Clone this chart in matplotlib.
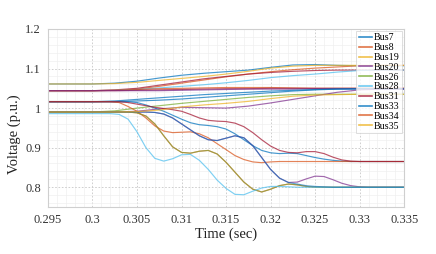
import matplotlib
matplotlib.use("Agg")
import matplotlib.pyplot as plt
from matplotlib.ticker import AutoMinorLocator

plt.rcParams['font.family'] = ['Liberation Serif', 'DejaVu Serif']

# matlab default colour order
c_blue, c_orange, c_yellow = '#0072BD', '#D95319', '#EDB120'
c_purple, c_green, c_lblue, c_maroon = '#7E2F8E', '#77AC30', '#4DBEEE', '#A2142F'

# time base for the buses that collapse (sec)
t_low = [0.295, 0.300] + [round(0.302 + 0.001 * i, 3) for i in range(32)] + [0.335]

bus7 = [1.016, 1.016, 1.016, 1.016, 1.016, 1.014, 1.008, 1.000, 0.992, 0.982, 0.972, 0.963,
        0.958, 0.956, 0.953, 0.947, 0.935, 0.920, 0.905, 0.893, 0.887, 0.885, 0.886, 0.885,
        0.880, 0.875, 0.871, 0.868, 0.866, 0.865, 0.865, 0.865, 0.865, 0.865, 0.865]
bus8 = [1.016, 1.016, 1.016, 1.014, 1.004, 0.992, 0.975, 0.955, 0.942, 0.938, 0.939, 0.940,
        0.935, 0.925, 0.910, 0.895, 0.880, 0.870, 0.864, 0.862, 0.864, 0.865, 0.865, 0.865,
        0.865, 0.865, 0.865, 0.865, 0.865, 0.865, 0.865, 0.865, 0.865, 0.865, 0.865]
bus31 = [1.016, 1.016, 1.016, 1.016, 1.014, 1.010, 1.006, 1.002, 0.999, 0.996, 0.992, 0.984,
         0.975, 0.969, 0.967, 0.966, 0.962, 0.953, 0.938, 0.920, 0.904, 0.893, 0.888, 0.887,
         0.890, 0.890, 0.885, 0.876, 0.869, 0.866, 0.865, 0.865, 0.865, 0.865, 0.865]
bus28 = [0.986, 0.986, 0.986, 0.984, 0.972, 0.940, 0.900, 0.873, 0.866, 0.872, 0.882, 0.883,
         0.868, 0.845, 0.818, 0.797, 0.782, 0.781, 0.790, 0.798, 0.802, 0.802, 0.801, 0.800,
         0.800, 0.800, 0.800, 0.800, 0.800, 0.800, 0.800, 0.800, 0.800, 0.800, 0.800]
bus26 = [0.990, 0.990, 0.990, 0.990, 0.990, 0.988, 0.980, 0.960, 0.930, 0.902, 0.888, 0.886,
         0.891, 0.893, 0.884, 0.863, 0.838, 0.813, 0.795, 0.788, 0.795, 0.804, 0.808, 0.806,
         0.802, 0.800, 0.800, 0.800, 0.800, 0.800, 0.800, 0.800, 0.800, 0.800, 0.800]
bus34 = [0.990, 0.990, 0.990, 0.990, 0.990, 0.988, 0.980, 0.960, 0.930, 0.902, 0.888, 0.886,
         0.891, 0.893, 0.884, 0.863, 0.838, 0.813, 0.795, 0.788, 0.795, 0.804, 0.808, 0.806,
         0.802, 0.800, 0.800, 0.800, 0.800, 0.800, 0.800, 0.800, 0.800, 0.800, 0.800]
bus20 = [0.990, 0.990, 0.990, 0.990, 0.990, 0.990, 0.990, 0.989, 0.985, 0.975, 0.960, 0.945,
         0.930, 0.920, 0.918, 0.924, 0.930, 0.925, 0.905, 0.875, 0.845, 0.823, 0.812, 0.813,
         0.821, 0.828, 0.827, 0.819, 0.810, 0.804, 0.801, 0.800, 0.800, 0.800, 0.800]
bus33 = [0.990, 0.990, 0.990, 0.990, 0.990, 0.990, 0.990, 0.989, 0.985, 0.975, 0.960, 0.945,
         0.930, 0.920, 0.918, 0.924, 0.930, 0.925, 0.905, 0.875, 0.845, 0.823, 0.812, 0.808,
         0.804, 0.802, 0.801, 0.800, 0.800, 0.800, 0.800, 0.800, 0.800, 0.800, 0.800]

# time base for the buses that rise
t_up = [0.295, 0.300, 0.3025, 0.305, 0.3075, 0.310, 0.3125, 0.315, 0.3175, 0.320,
        0.3225, 0.325, 0.3275, 0.330, 0.3325, 0.335]

bus19 = [1.061, 1.061, 1.062, 1.065, 1.070, 1.075, 1.080, 1.086, 1.093, 1.101, 1.106, 1.108, 1.108, 1.108, 1.108, 1.108]
bus35 = [0.990, 0.990, 0.990, 0.991, 0.995, 1.003, 1.008, 1.012, 1.017, 1.024, 1.030, 1.033, 1.034, 1.035, 1.035, 1.035]
up_blue1 = [1.061, 1.061, 1.063, 1.068, 1.076, 1.083, 1.088, 1.092, 1.096, 1.103, 1.109, 1.110, 1.108, 1.107, 1.107, 1.107]
up_orange1 = [1.044, 1.044, 1.045, 1.048, 1.055, 1.063, 1.071, 1.079, 1.086, 1.092, 1.097, 1.101, 1.104, 1.107, 1.108, 1.108]
up_maroon1 = [1.044, 1.044, 1.046, 1.050, 1.058, 1.066, 1.074, 1.080, 1.086, 1.090, 1.093, 1.095, 1.096, 1.096, 1.096, 1.096]
up_lblue = [1.044, 1.044, 1.045, 1.047, 1.051, 1.055, 1.059, 1.064, 1.070, 1.077, 1.082, 1.086, 1.091, 1.095, 1.096, 1.096]
up_orange2 = [1.044, 1.044, 1.045, 1.047, 1.049, 1.050, 1.051, 1.052, 1.052, 1.052, 1.051, 1.050, 1.050, 1.050, 1.050, 1.050]
up_maroon2 = [1.044, 1.044, 1.044, 1.045, 1.046, 1.047, 1.048, 1.049, 1.049, 1.050, 1.050, 1.050, 1.050, 1.050, 1.050, 1.050]
up_purple1 = [1.044, 1.044, 1.044, 1.044, 1.044, 1.045, 1.046, 1.047, 1.048, 1.048, 1.048, 1.049, 1.049, 1.049, 1.049, 1.049]
up_blue2 = [1.016, 1.016, 1.018, 1.022, 1.026, 1.030, 1.034, 1.037, 1.040, 1.043, 1.045, 1.047, 1.048, 1.048, 1.048, 1.048]
up_blue3 = [1.016, 1.016, 1.016, 1.018, 1.020, 1.023, 1.027, 1.031, 1.035, 1.039, 1.043, 1.046, 1.048, 1.049, 1.049, 1.049]
up_green = [0.990, 0.990, 0.993, 1.000, 1.006, 1.012, 1.017, 1.022, 1.027, 1.031, 1.034, 1.035, 1.035, 1.035, 1.035, 1.035]
up_purple2 = [0.990, 0.990, 0.990, 0.992, 0.998, 1.002, 1.001, 1.000, 1.005, 1.013, 1.022, 1.031, 1.040, 1.046, 1.048, 1.048]

xticks = [0.295, 0.3, 0.305, 0.31, 0.315, 0.32, 0.325, 0.33, 0.335]
xlabels = ['0.295', '0.3', '0.305', '0.31', '0.315', '0.32', '0.325', '0.33', '0.335']
yticks = [0.8, 0.9, 1.0, 1.1, 1.2]
ylabels = ['0.8', '0.9', '1', '1.1', '1.2']

fig = plt.figure(figsize=(4.36, 2.54), dpi=100)
ax = fig.add_axes([0.110, 0.185, 0.817, 0.701])

lw, al = 0.85, 0.72
# unlabeled buses first so the labeled ones sit on top
extra = [(up_blue1, c_blue), (up_orange1, c_orange), (up_maroon1, c_maroon), (up_lblue, c_lblue),
         (up_orange2, c_orange), (up_maroon2, c_maroon), (up_purple1, c_purple),
         (up_blue2, c_blue), (up_blue3, c_blue), (up_green, c_green), (up_purple2, c_purple)]
for v, c in extra:
    ax.plot(t_up, v, color=c, lw=lw, alpha=al)

lines = {}
lines['Bus7'] = ax.plot(t_low, bus7, color=c_blue, lw=lw, alpha=al, label='Bus7')[0]
lines['Bus8'] = ax.plot(t_low, bus8, color=c_orange, lw=lw, alpha=al, label='Bus8')[0]
lines['Bus19'] = ax.plot(t_up, bus19, color=c_yellow, lw=lw, alpha=al, label='Bus19')[0]
lines['Bus20'] = ax.plot(t_low, bus20, color=c_purple, lw=lw, alpha=al, label='Bus20')[0]
lines['Bus34'] = ax.plot(t_low, bus34, color=c_orange, lw=lw, alpha=al, label='Bus34')[0]
lines['Bus26'] = ax.plot(t_low, bus26, color=c_green, lw=lw, alpha=0.6, label='Bus26')[0]
lines['Bus28'] = ax.plot(t_low, bus28, color=c_lblue, lw=lw, alpha=al, label='Bus28')[0]
lines['Bus31'] = ax.plot(t_low, bus31, color=c_maroon, lw=lw, alpha=al, label='Bus31')[0]
lines['Bus33'] = ax.plot(t_low, bus33, color=c_blue, lw=lw, alpha=0.6, label='Bus33')[0]
lines['Bus35'] = ax.plot(t_up, bus35, color=c_yellow, lw=lw, alpha=al, label='Bus35')[0]
order = ['Bus7', 'Bus8', 'Bus19', 'Bus20', 'Bus26', 'Bus28', 'Bus31', 'Bus33', 'Bus34', 'Bus35']

ax.set_xlim(0.295, 0.335)
ax.set_ylim(0.75, 1.2)
ax.set_xticks(xticks)
ax.set_xticklabels(xlabels)
ax.set_yticks(yticks)
ax.set_yticklabels(ylabels)
ax.xaxis.set_minor_locator(AutoMinorLocator(5))
ax.yaxis.set_minor_locator(AutoMinorLocator(5))
ax.grid(which='major', color='#c8c8c8', linestyle=(0, (2, 2)), lw=0.6)
ax.grid(which='minor', color='#ededed', linestyle='-', lw=0.4)
ax.set_axisbelow(True)
ax.tick_params(which='both', length=0, labelsize=9, colors='#333333', pad=5)
for s in ax.spines.values():
    s.set_color('#cfcfcf')
    s.set_linewidth(0.8)

ax.set_xlabel('Time (sec)', fontsize=10.5, color='#222222', labelpad=1)
ax.set_ylabel('Voltage (p.u.)', fontsize=10.5, color='#222222')
ax.yaxis.set_label_coords(-0.075, 0.41)

leg = ax.legend(handles=[lines[k] for k in order], loc='upper right', fontsize=7.2,
                frameon=True, fancybox=False, handlelength=1.3, handletextpad=0.2,
                labelspacing=0.08, borderpad=0.25, borderaxespad=0.2)
leg.get_frame().set_edgecolor('#cfcfcf')
leg.get_frame().set_linewidth(0.6)
for h in leg.get_lines():
    h.set_linewidth(1.2)
    h.set_alpha(0.8)

fig.savefig('out.png', dpi=100)
